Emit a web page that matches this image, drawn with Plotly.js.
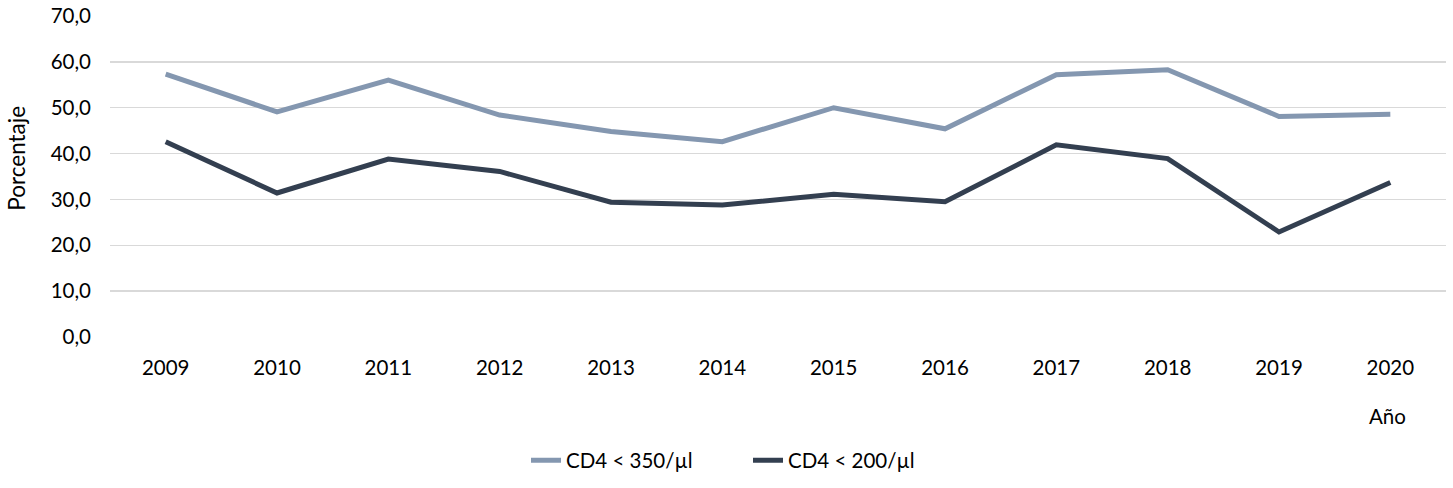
<!DOCTYPE html>
<html>
<head>
<meta charset="utf-8">
<script src="https://cdn.plot.ly/plotly-3.0.1.min.js"></script>
<style>html,body{margin:0;padding:0;background:#fff;}#chart{width:1453px;height:488px;}</style>
</head>
<body>
<div id="chart"></div>
<script>
const years = ['2009','2010','2011','2012','2013','2014','2015','2016','2017','2018','2019','2020'];
const cd4_350 = [57.3, 49.1, 56.0, 48.4, 44.8, 42.6, 50.0, 45.4, 57.2, 58.3, 48.1, 48.6];
const cd4_200 = [42.6, 31.4, 38.8, 36.1, 29.4, 28.8, 31.1, 29.5, 41.9, 38.9, 22.9, 33.7];
const seriesNames = ['CD4 < 350/µl', 'CD4 < 200/µl'];
const yTicks = [0, 10, 20, 30, 40, 50, 60, 70];
const yTitle = 'Porcentaje';
const xTitle = 'Año';

const W = 1453, H = 488;
const L = 110, R = 7, T = 16, B = 139;
const pw = W - L - R, ph = H - T - B;
const px = v => (v - L) / pw;
const py = v => (H - B - v) / ph;

const font = {family: 'Lato, "Open Sans", sans-serif', size: 20.5, color: '#000'};
const traces = [
  {x: years, y: cd4_350, name: seriesNames[0], type: 'scatter', mode: 'lines',
   line: {color: '#8497B0', width: 5}},
  {x: years, y: cd4_200, name: seriesNames[1], type: 'scatter', mode: 'lines',
   line: {color: '#333F50', width: 5}}
];
const layout = {
  width: W, height: H,
  margin: {l: L, r: R, t: T, b: B},
  paper_bgcolor: '#fff', plot_bgcolor: '#fff',
  separators: ',.',
  font: font,
  showlegend: true,
  legend: {orientation: 'h', x: px(748), xanchor: 'center', y: py(477), yanchor: 'middle',
           font: Object.assign({}, font), itemwidth: 30, tracegroupgap: 0,
           entrywidth: 177, entrywidthmode: 'pixels'},
  xaxis: {type: 'category', showgrid: false, showline: false, zeroline: false,
          ticks: '', tickfont: Object.assign({}, font), range: [-0.5, 11.5],
          ticklabelstandoff: 16},
  yaxis: {range: [0, 70], tickvals: yTicks, tickformat: '.1f', showgrid: true,
          gridcolor: '#d9d9d9', gridwidth: 1.5, zeroline: false, showline: false,
          ticks: '', ticklen: 0, tickfont: Object.assign({}, font), ticklabelstandoff: 18},
  annotations: [
    {text: xTitle, xref: 'paper', yref: 'paper', x: px(1387), y: py(431),
     xanchor: 'center', yanchor: 'middle', showarrow: false, font: Object.assign({}, font)},
    {text: yTitle, xref: 'paper', yref: 'paper', x: px(17), y: py(164), textangle: -90,
     xanchor: 'center', yanchor: 'middle', showarrow: false,
     font: Object.assign({}, font, {size: 22.5})}
  ]
};
Plotly.newPlot('chart', traces, layout, {displayModeBar: false, staticPlot: true});
</script>
</body>
</html>
